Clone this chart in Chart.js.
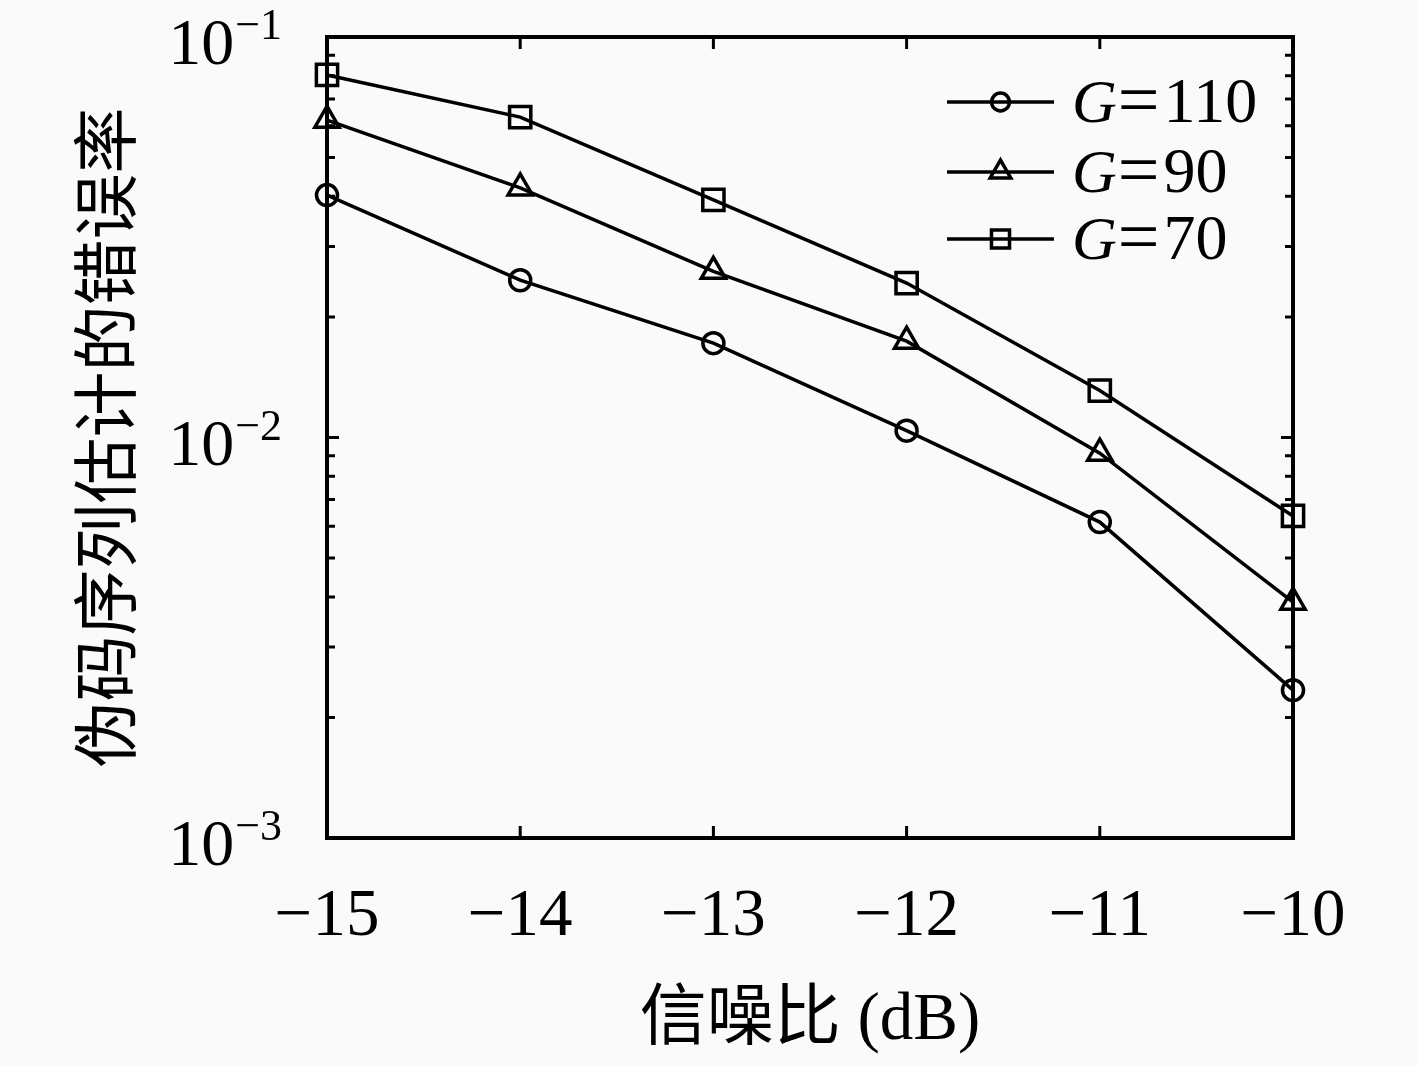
<!DOCTYPE html>
<html>
<head>
<meta charset="utf-8">
<script src="https://cdn.jsdelivr.net/npm/chart.js@4/dist/chart.umd.min.js"></script>
<style>
  html, body { margin: 0; padding: 0; background: #fafafa; }
</style>
</head>
<body>
<canvas id="ber-chart" width="1417" height="1065"></canvas>
<script>
// SNR sweep and estimated error rates
const snrDb = [-15, -14, -13, -12, -11, -10];
const berG110 = [0.0403, 0.0247, 0.0172, 0.0104, 0.00615, 0.00234];
const berG90  = [0.0620, 0.0420, 0.0260, 0.0174, 0.00914, 0.00388];
const berG70  = [0.0804, 0.0631, 0.0392, 0.0243, 0.0131, 0.00637];
const gainLabels = ['110', '90', '70'];
const yDecades = [-3, -2, -1];

const SERIF = "'Liberation Serif', 'DejaVu Serif', serif";
const INK = '#000';

const mkSet = (vals, style, radius, idx) => ({
  label: 'G=' + gainLabels[idx],
  data: snrDb.map((x, i) => ({ x, y: vals[i] })),
  borderColor: INK,
  borderWidth: 3.5,
  pointStyle: style,
  pointRadius: radius,
  pointBorderWidth: 3.5,
  pointBorderColor: INK,
  pointBackgroundColor: 'transparent',
  tension: 0,
  clip: false,
});

// box + inward ticks, y labels, legend
const frame = {
  id: 'frame',
  beforeDatasetsDraw(chart) {
    const { ctx, chartArea: a, scales: { x, y } } = chart;
    ctx.save();
    ctx.strokeStyle = INK;
    ctx.lineWidth = 4;
    ctx.strokeRect(a.left, a.top, a.right - a.left, a.bottom - a.top);
    ctx.lineWidth = 3;
    ctx.beginPath();
    snrDb.forEach(v => {
      const px = x.getPixelForValue(v);
      ctx.moveTo(px, a.bottom); ctx.lineTo(px, a.bottom - 12);
      ctx.moveTo(px, a.top); ctx.lineTo(px, a.top + 12);
    });
    yDecades.forEach(d => {
      const py = y.getPixelForValue(Math.pow(10, d));
      ctx.moveTo(a.left, py); ctx.lineTo(a.left + 12, py);
      ctx.moveTo(a.right, py); ctx.lineTo(a.right - 12, py);
      if (d < yDecades[yDecades.length - 1]) {
        for (let m = 2; m <= 9; m++) {
          const pm = y.getPixelForValue(m * Math.pow(10, d));
          ctx.moveTo(a.left, pm); ctx.lineTo(a.left + 8, pm);
          ctx.moveTo(a.right, pm); ctx.lineTo(a.right - 8, pm);
        }
      }
    });
    ctx.stroke();
    ctx.restore();
  },
  afterDraw(chart) {
    const { ctx, chartArea: a, scales: { y } } = chart;
    ctx.save();
    ctx.fillStyle = INK;
    ctx.textBaseline = 'alphabetic';
    // 10^k labels with superscript
    yDecades.forEach(d => {
      const py = y.getPixelForValue(Math.pow(10, d));
      const exp = '\u2212' + Math.abs(d);
      ctx.font = '44px ' + SERIF;
      const ew = ctx.measureText(exp).width;
      const right = a.left - 45;
      ctx.textAlign = 'left';
      ctx.fillText(exp, right - ew, py + 2);
      ctx.font = '66px ' + SERIF;
      ctx.textAlign = 'right';
      ctx.fillText('10', right - ew - 1, py + 27);
    });

    // legend: line + marker + G=…
    const rows = [65, 135, 202];
    chart.data.datasets.forEach((ds, i) => {
      const ry = a.top + rows[i];
      const x0 = a.right - 346, x1 = a.right - 239;
      ctx.strokeStyle = INK;
      ctx.lineWidth = 3.5;
      ctx.beginPath();
      ctx.moveTo(x0, ry); ctx.lineTo(x1, ry);
      ctx.stroke();
      ctx.fillStyle = 'transparent';
      Chart.helpers.drawPoint(ctx, {
        pointStyle: ds.pointStyle, radius: ds.pointRadius * 0.85, rotation: 0, borderWidth: 3.5,
      }, (x0 + x1) / 2, ry);
      ctx.fillStyle = INK;
      ctx.textAlign = 'left';
      let tx = a.right - 221;
      ctx.font = 'italic 62px ' + SERIF;
      ctx.fillText('G', tx, ry + 20);
      tx += ctx.measureText('G').width + 1;
      ctx.font = '74px ' + SERIF;
      ctx.fillText('=', tx, ry + 22);
      tx += ctx.measureText('=').width + 4;
      ctx.font = '64px ' + SERIF;
      ctx.fillText(gainLabels[i], tx, ry + 20);
    });
    ctx.restore();
  },
};

new Chart(document.getElementById('ber-chart'), {
  type: 'line',
  data: {
    datasets: [
      mkSet(berG110, 'circle', 10.5, 0),
      mkSet(berG90, 'triangle', 14, 1),
      mkSet(berG70, 'rect', 15, 2),
    ],
  },
  options: {
    responsive: false,
    animation: false,
    devicePixelRatio: 1,
    layout: { padding: { left: 0, right: 124, top: 37, bottom: 0 } },
    plugins: { legend: { display: false }, tooltip: { enabled: false } },
    scales: {
      x: {
        type: 'linear',
        min: -15,
        max: -10,
        grid: { display: false, drawTicks: false },
        border: { display: false },
        ticks: {
          stepSize: 1,
          color: INK,
          padding: 39,
          font: { family: SERIF, size: 67 },
          callback: v => String(v).replace('-', '\u2212'),
        },
        title: {
          display: true,
          text: '信噪比 (dB)',
          color: INK,
          font: { family: "'Liberation Serif', 'Noto Sans CJK SC'", size: 67 },
          padding: { top: 0, bottom: 3 },
        },
        afterFit: s => { s.height = 227; },
      },
      y: {
        type: 'logarithmic',
        min: 0.001,
        max: 0.1,
        grid: { display: false, drawTicks: false },
        border: { display: false },
        ticks: { display: false },
        title: {
          display: true,
          text: '伪码序列估计的错误率',
          color: INK,
          font: { family: "'Noto Sans CJK SC'", size: 66 },
          padding: { top: 65, bottom: 0 },
        },
        afterFit: s => { s.width = 327; },
      },
    },
  },
  plugins: [frame],
});
</script>
</body>
</html>
